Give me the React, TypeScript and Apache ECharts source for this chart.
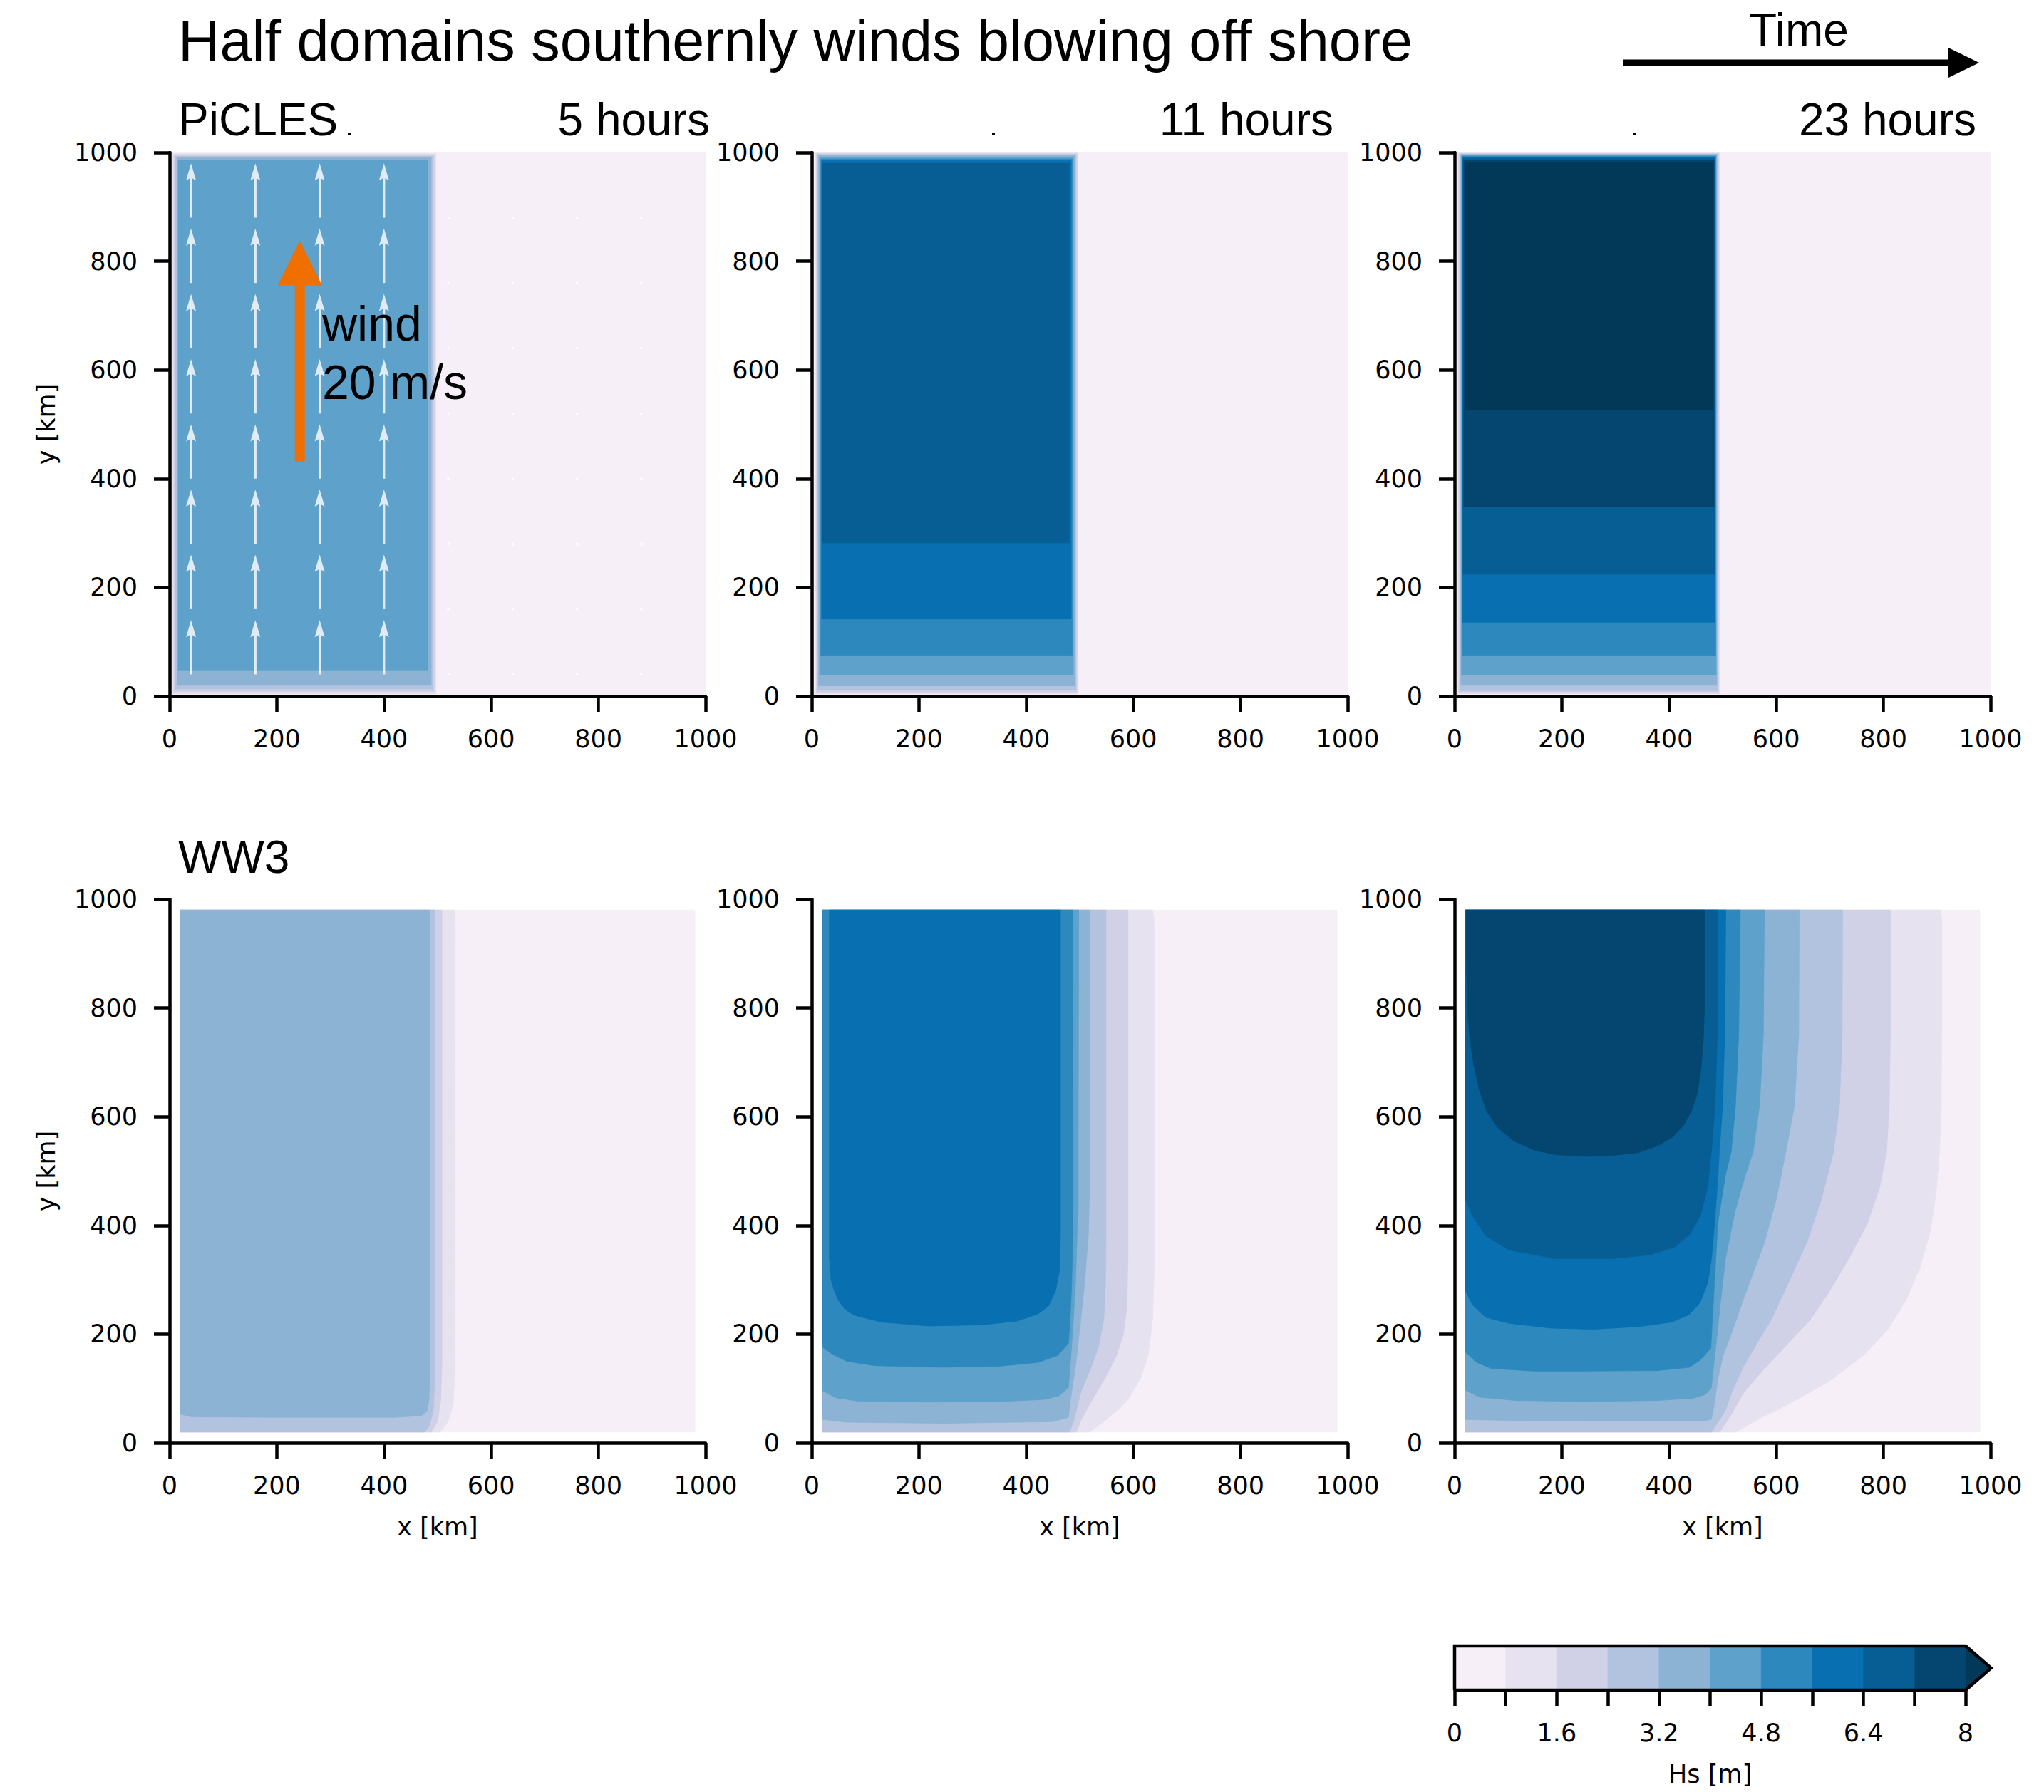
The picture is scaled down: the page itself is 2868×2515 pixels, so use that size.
import React, { useEffect, useRef } from 'react';
import * as echarts from 'echarts';

const CHART_W = 2868;
const CHART_H = 2515;

const FIG_TITLE = 'Half domains southernly winds blowing off shore';
const TIME_LABEL = 'Time';
const MODEL_LABELS = ['PiCLES', 'WW3'];
const TIME_LABELS = ['5 hours', '11 hours', '23 hours'];
const X_NAME = 'x [km]';
const Y_NAME = 'y [km]';
const CB_NAME = 'Hs [m]';
const WIND_TEXT = ['wind', '20 m/s'];

const AXIS_MIN = 0;
const AXIS_MAX = 1000;
const AXIS_STEP = 200;

// contour levels of Hs [m] and PuBu band colours (index 10 = over 8 m)
const HS_LEVELS = [0, 0.8, 1.6, 2.4, 3.2, 4.0, 4.8, 5.6, 6.4, 7.2, 8.0];
const HS_STEP = 0.8;
const BAND_COLORS = [
  '#f6eff7', '#e6e2ef', '#d0d1e6', '#b1c3de', '#8cb2d4',
  '#5ea1ca', '#2d89bd', '#0870b0', '#065e94', '#04466f', '#023858',
];

// PiCLES: superlevel rectangles [band, x0, x1, y0, y1] in km
const PICLES_5H = [
  [0, 0, 1000, 0, 1000],
  [1, 5, 497, 4, 998],
  [2, 8, 494, 8, 996],
  [3, 11, 491, 13, 993],
  [4, 14, 488, 20, 990],
  [5, 16, 482, 47, 986],
];
const PICLES_11H = [
  [0, 0, 1000, 0, 1000],
  [1, 7, 497, 4, 999],
  [2, 9, 495, 7, 998],
  [3, 11, 493, 11, 996],
  [4, 13, 491, 19, 994],
  [5, 15, 488, 39, 991],
  [6, 17, 486, 75, 988],
  [7, 18.5, 484, 142, 985],
  [8, 20, 480, 282, 980],
];
const PICLES_23H = [
  [0, 0, 1000, 0, 1000],
  [1, 6, 495, 4, 999],
  [2, 8, 493, 7, 998],
  [3, 10, 491, 10, 997],
  [4, 12, 489, 20, 996],
  [5, 13, 488, 39, 995],
  [6, 14, 487, 75, 993],
  [7, 15, 486, 136, 991],
  [8, 16, 485, 224, 989],
  [9, 17, 484, 348, 986],
  [10, 19.5, 482, 527, 981],
];

// WW3: superlevel polygons (band, [x, y] km)
const WW3_5H = [
  { band: 0, pts: [[20, 20], [980, 20], [980, 980], [20, 980]] },
  { band: 1, pts: [[20, 20], [505, 20], [520, 40], [529, 70], [532, 130], [533, 960], [531, 980], [20, 980]] },
  { band: 2, pts: [[20, 20], [489, 20], [500, 40], [506, 80], [508, 150], [508, 980], [20, 980]] },
  { band: 3, pts: [[20, 20], [476, 20], [485, 32], [492, 60], [495, 120], [495, 980], [20, 980]] },
  { band: 4, pts: [[20, 53], [40, 48], [192, 47], [421, 47], [470, 50], [480, 58], [484, 80], [485, 120], [485, 980], [20, 980]] },
];
const WW3_11H = [
  { band: 0, pts: [[20, 20], [980, 20], [980, 980], [20, 980]] },
  { band: 1, pts: [[20, 20], [519, 20], [548, 41], [588, 76], [614, 120], [628, 163], [636, 228], [639, 315], [639, 960], [636, 980], [20, 980]] },
  { band: 2, pts: [[20, 20], [494, 20], [502, 41], [519, 72], [548, 120], [568, 159], [581, 198], [588, 250], [590, 337], [590, 980], [20, 980]] },
  { band: 3, pts: [[20, 20], [481, 20], [489, 41], [502, 93], [522, 141], [535, 176], [545, 228], [548, 293], [549, 380], [549, 980], [20, 980]] },
  { band: 4, pts: [[20, 43], [65, 38], [250, 36], [449, 39], [479, 47], [482, 76], [489, 120], [495, 163], [502, 228], [509, 293], [516, 380], [518, 450], [518, 980], [20, 980]] },
  { band: 5, pts: [[20, 96], [45, 83], [85, 77], [217, 75], [350, 76], [436, 80], [462, 87], [479, 102], [482, 141], [487, 207], [492, 293], [495, 380], [497, 430], [498, 980], [20, 980]] },
  { band: 6, pts: [[20, 176], [39, 163], [65, 150], [118, 142], [244, 139], [350, 141], [423, 148], [459, 161], [479, 183], [482, 228], [485, 293], [487, 380], [487, 980], [20, 980]] },
  { band: 7, pts: [[33, 337], [36, 300], [42, 280], [50, 262], [58, 250], [70, 240], [85, 233], [131, 222], [217, 215], [317, 217], [383, 224], [422, 237], [442, 252], [455, 280], [462, 315], [464, 380], [464, 980], [33, 980]] },
];
const WW3_23H = [
  { band: 0, pts: [[20, 20], [980, 20], [980, 980], [20, 980]] },
  { band: 1, pts: [[20, 20], [525, 20], [564, 42], [617, 68], [697, 112], [763, 161], [809, 209], [842, 262], [869, 324], [888, 390], [898, 456], [905, 535], [908, 620], [909, 750], [909, 960], [907, 980], [20, 980]] },
  { band: 2, pts: [[20, 20], [495, 20], [505, 35], [518, 55], [538, 90], [564, 121], [610, 170], [664, 227], [697, 275], [737, 341], [770, 403], [793, 469], [806, 535], [811, 620], [813, 750], [813, 980], [20, 980]] },
  { band: 3, pts: [[20, 20], [479, 20], [491, 37], [505, 59], [518, 95], [538, 139], [564, 183], [591, 227], [624, 297], [657, 368], [684, 447], [707, 535], [718, 620], [723, 750], [724, 980], [20, 980]] },
  { band: 4, pts: [[20, 43], [114, 41], [246, 40], [379, 40], [461, 40], [479, 43], [485, 73], [491, 117], [501, 161], [518, 205], [538, 262], [558, 315], [578, 368], [600, 447], [618, 535], [634, 620], [642, 750], [643, 980], [20, 980]] },
  { band: 5, pts: [[20, 97], [47, 84], [114, 78], [246, 76], [379, 78], [445, 82], [468, 89], [479, 101], [483, 139], [488, 183], [495, 249], [505, 337], [523, 425], [542, 491], [557, 535], [569, 620], [576, 750], [578, 980], [20, 980]] },
  { band: 6, pts: [[20, 167], [41, 148], [68, 137], [147, 132], [246, 132], [379, 133], [438, 139], [458, 152], [478, 174], [481, 227], [486, 315], [491, 403], [505, 491], [516, 535], [524, 620], [530, 750], [533, 980], [20, 980]] },
  { band: 7, pts: [[20, 280], [34, 253], [58, 231], [101, 220], [180, 211], [259, 209], [346, 214], [405, 222], [438, 236], [458, 258], [472, 293], [479, 337], [485, 403], [490, 469], [494, 535], [500, 620], [504, 750], [506, 980], [20, 980]] },
  { band: 8, pts: [[20, 449], [34, 416], [58, 381], [101, 355], [187, 339], [299, 339], [366, 346], [412, 361], [438, 383], [458, 416], [472, 469], [479, 535], [486, 620], [490, 750], [491, 980], [20, 980]] },
  { band: 9, pts: [[22, 980], [22, 900], [23, 840], [25, 780], [29, 740], [35, 700], [46, 650], [60, 610], [80, 580], [111, 555], [150, 538], [188, 530], [251, 527], [300, 529], [344, 534], [380, 547], [407, 563], [428, 585], [442, 611], [452, 640], [459, 682], [464, 740], [466, 796], [466, 980]] },
];

// wind vectors (PiCLES 5 h): grid positions in km and v-component per column in m/s
const QUIVER_X = [40, 160, 280, 400, 520, 640, 760, 880];
const QUIVER_Y = [40, 160, 280, 400, 520, 640, 760, 880];
const QUIVER_V = [20, 20, 20, 20, 0, 0, 0, 0];
const QUIVER_KM_PER_MS = 5;

// orange wind annotation arrow, km
const WIND_ARROW = [243, 431, 838];

// layout (pixels)
const GRID_LEFT = [238, 1139, 2041];
const GRID_TOP = [214, 1262];
const GRID_W = 752;
const GRID_H = 763;
const CB = { left: 2041, top: 2310, width: 717, height: 62 };

const SANS = 'Liberation Sans, Arial, Helvetica, sans-serif';
const TICKFONT = 'DejaVu Sans, sans-serif';
const AX_W = 4.5;

function rectRegion(r: number[]) {
  return { band: r[0], pts: [[r[1], r[3]], [r[2], r[3]], [r[2], r[4]], [r[1], r[4]]] };
}

function buildOption() {
  const panels = [
    { row: 0, col: 0, regions: PICLES_5H.map(rectRegion) },
    { row: 0, col: 1, regions: PICLES_11H.map(rectRegion) },
    { row: 0, col: 2, regions: PICLES_23H.map(rectRegion) },
    { row: 1, col: 0, regions: WW3_5H },
    { row: 1, col: 1, regions: WW3_11H },
    { row: 1, col: 2, regions: WW3_23H },
  ];

  const grid: any[] = [];
  const xAxis: any[] = [];
  const yAxis: any[] = [];
  const series: any[] = [];

  const axisCommon = {
    type: 'value',
    min: AXIS_MIN,
    max: AXIS_MAX,
    interval: AXIS_STEP,
    z: 10,
    axisLine: { show: true, onZero: false, lineStyle: { color: '#000', width: AX_W } },
    axisTick: { show: true, inside: false, length: 22, lineStyle: { color: '#000', width: AX_W } },
    splitLine: { show: false },
    nameLocation: 'middle',
    nameTextStyle: { fontSize: 35, fontFamily: TICKFONT, color: '#000' },
  };
  const plainNum = (v: number) => String(v);

  panels.forEach((p, i) => {
    grid.push({ left: GRID_LEFT[p.col], top: GRID_TOP[p.row], width: GRID_W, height: GRID_H, containLabel: false });
    xAxis.push({
      ...axisCommon,
      gridIndex: i,
      position: 'bottom',
      name: p.row === 1 ? X_NAME : '',
      nameGap: 100,
      axisLabel: { show: true, margin: 42, fontSize: 35, fontFamily: TICKFONT, color: '#000', formatter: plainNum },
    });
    yAxis.push({
      ...axisCommon,
      gridIndex: i,
      position: 'left',
      name: p.col === 0 ? Y_NAME : '',
      nameGap: 156,
      axisLabel: { show: true, margin: 45, fontSize: 35, fontFamily: TICKFONT, color: '#000', formatter: plainNum },
    });
    const regions = p.regions;
    series.push({
      type: 'custom',
      xAxisIndex: i,
      yAxisIndex: i,
      silent: true,
      z: 1,
      data: regions.map((r: any) => [r.pts[0][0], r.pts[0][1], r.band]),
      renderItem: (params: any, api: any) => {
        const r = regions[params.dataIndex];
        const color = BAND_COLORS[r.band];
        return {
          type: 'polygon',
          shape: { points: r.pts.map((pt: number[]) => api.coord(pt)) },
          style: { fill: color, stroke: color, lineWidth: 0.8 },
        };
      },
    });
  });

  // quiver
  const quiverData: number[][] = [];
  QUIVER_X.forEach((x, ci) => {
    QUIVER_Y.forEach((y) => quiverData.push([x, y, QUIVER_V[ci]]));
  });
  series.push({
    type: 'custom',
    xAxisIndex: 0,
    yAxisIndex: 0,
    silent: true,
    z: 3,
    data: quiverData,
    renderItem: (params: any, api: any) => {
      const x = api.value(0);
      const y = api.value(1);
      const v = api.value(2);
      const p0 = api.coord([x, y]);
      if (!v) {
        return { type: 'circle', shape: { cx: p0[0], cy: p0[1], r: 1.8 }, style: { fill: 'rgba(255,255,255,0.85)' } };
      }
      const p1 = api.coord([x, y + v * QUIVER_KM_PER_MS]);
      const headLen = 24;
      const headHalf = 7;
      const shaftHalf = 1.6;
      const by = p1[1] + headLen;
      const col = 'rgba(255,255,255,0.8)';
      return {
        type: 'group',
        children: [
          { type: 'rect', shape: { x: p0[0] - shaftHalf, y: by - 4, width: shaftHalf * 2, height: p0[1] - by + 4 }, style: { fill: col } },
          { type: 'polygon', shape: { points: [[p1[0] - headHalf, by], [p1[0], p1[1]], [p1[0] + headHalf, by], [p1[0], by - 4]] }, style: { fill: col } },
        ],
      };
    },
  });

  // orange wind arrow
  series.push({
    type: 'custom',
    xAxisIndex: 0,
    yAxisIndex: 0,
    silent: true,
    z: 4,
    data: [WIND_ARROW],
    renderItem: (params: any, api: any) => {
      const tail = api.coord([api.value(0), api.value(1)]);
      const tip = api.coord([api.value(0), api.value(2)]);
      const headLen = 63;
      const headHalf = 31;
      const shaftHalf = 7;
      const by = tip[1] + headLen;
      const col = '#ef6f00';
      return {
        type: 'group',
        children: [
          { type: 'rect', shape: { x: tail[0] - shaftHalf, y: by - 1, width: shaftHalf * 2, height: tail[1] - by + 1 }, style: { fill: col } },
          { type: 'polygon', shape: { points: [[tip[0] - headHalf, by], [tip[0], tip[1]], [tip[0] + headHalf, by]] }, style: { fill: col } },
        ],
      };
    },
  });

  // colorbar
  const cbIdx = panels.length;
  const hsMax = HS_LEVELS[HS_LEVELS.length - 1];
  const ext = 0.4;
  grid.push({ left: CB.left, top: CB.top, width: CB.width, height: CB.height, containLabel: false });
  xAxis.push({
    type: 'value',
    gridIndex: cbIdx,
    min: HS_LEVELS[0],
    max: hsMax,
    interval: HS_STEP,
    position: 'bottom',
    z: 10,
    axisLine: { show: false },
    axisTick: { show: true, inside: false, length: 22, lineStyle: { color: '#000', width: AX_W } },
    splitLine: { show: false },
    axisLabel: {
      show: true,
      margin: 42,
      fontSize: 35,
      fontFamily: TICKFONT,
      color: '#000',
      formatter: (v: number) => {
        const k = Math.round(v / HS_STEP);
        if (k % 2 !== 0) return '';
        return String(+(k * HS_STEP).toFixed(1));
      },
    },
    name: CB_NAME,
    nameLocation: 'middle',
    nameGap: 100,
    nameTextStyle: { fontSize: 35, fontFamily: TICKFONT, color: '#000' },
  });
  yAxis.push({ type: 'value', gridIndex: cbIdx, min: 0, max: 1, show: false });
  const cbBands = HS_LEVELS.slice(0, -1).map((lo, i) => [lo, HS_LEVELS[i + 1], i]);
  series.push({
    type: 'custom',
    xAxisIndex: cbIdx,
    yAxisIndex: cbIdx,
    silent: true,
    clip: false,
    z: 2,
    data: cbBands,
    renderItem: (params: any, api: any) => {
      const a = api.coord([api.value(0), 0]);
      const b = api.coord([api.value(1), 1]);
      const color = BAND_COLORS[api.value(2)];
      return {
        type: 'rect',
        shape: { x: a[0], y: b[1], width: b[0] - a[0], height: a[1] - b[1] },
        style: { fill: color, stroke: color, lineWidth: 0.8 },
      };
    },
  });
  series.push({
    type: 'custom',
    xAxisIndex: cbIdx,
    yAxisIndex: cbIdx,
    silent: true,
    clip: false,
    z: 3,
    data: [[hsMax, 0.5]],
    renderItem: (params: any, api: any) => {
      const tri = [[hsMax, 0], [hsMax + ext, 0.5], [hsMax, 1]].map((p) => api.coord(p));
      const outline = [[HS_LEVELS[0], 0], [hsMax, 0], [hsMax + ext, 0.5], [hsMax, 1], [HS_LEVELS[0], 1], [HS_LEVELS[0], 0]].map((p) => api.coord(p));
      return {
        type: 'group',
        children: [
          { type: 'polygon', shape: { points: tri }, style: { fill: BAND_COLORS[10] } },
          { type: 'polyline', shape: { points: outline }, style: { stroke: '#000', lineWidth: AX_W, fill: null, lineJoin: 'miter' } },
        ],
      };
    },
  });

  const txt = (text: string, x: number, y: number, size: number, align = 'left', family = SANS) => ({
    type: 'text',
    x,
    y,
    z: 100,
    silent: true,
    style: {
      text,
      fontSize: size,
      fontFamily: family,
      fill: '#000',
      align,
      verticalAlign: 'middle',
      textAlign: align,
      textVerticalAlign: 'middle',
    },
  });

  const graphic: any[] = [
    txt(FIG_TITLE, 250, 57, 81),
    txt(TIME_LABEL, 2524, 42, 64, 'center'),
    {
      type: 'rect',
      silent: true,
      z: 100,
      shape: { x: 2277, y: 83.5, width: 462, height: 9 },
      style: { fill: '#000' },
    },
    {
      type: 'polygon',
      silent: true,
      z: 100,
      shape: { points: [[2734, 67], [2777, 88], [2734, 109]] },
      style: { fill: '#000' },
    },
    txt(MODEL_LABELS[0], 250, 168, 64),
    txt(TIME_LABELS[0], 996, 168, 64, 'right'),
    txt(TIME_LABELS[1], 1871, 168, 64, 'right'),
    txt(TIME_LABELS[2], 2773, 168, 64, 'right'),
    txt(MODEL_LABELS[1], 250, 1203, 64),
    txt(WIND_TEXT[0], 452, 454, 68),
    txt(WIND_TEXT[1], 452, 536, 68),
    { type: 'rect', silent: true, z: 100, shape: { x: 488, y: 186, width: 4, height: 3 }, style: { fill: '#000' } },
    { type: 'rect', silent: true, z: 100, shape: { x: 1392, y: 186, width: 4, height: 3 }, style: { fill: '#000' } },
    { type: 'rect', silent: true, z: 100, shape: { x: 2291, y: 186, width: 4, height: 3 }, style: { fill: '#000' } },
  ];

  return {
    animation: false,
    backgroundColor: '#ffffff',
    grid,
    xAxis,
    yAxis,
    series,
    graphic: { elements: graphic, z: 100, zlevel: 0 },
  };
}

export default function App() {
  const ref = useRef<HTMLDivElement>(null);
  useEffect(() => {
    if (!ref.current) return;
    const chart = echarts.init(ref.current, null, { renderer: 'svg' });
    chart.setOption(buildOption() as any);
    return () => chart.dispose();
  }, []);
  return (
    <div
      ref={ref}
      style={{ position: 'absolute', left: 0, top: 0, width: CHART_W, height: CHART_H, background: '#fff' }}
    />
  );
}
